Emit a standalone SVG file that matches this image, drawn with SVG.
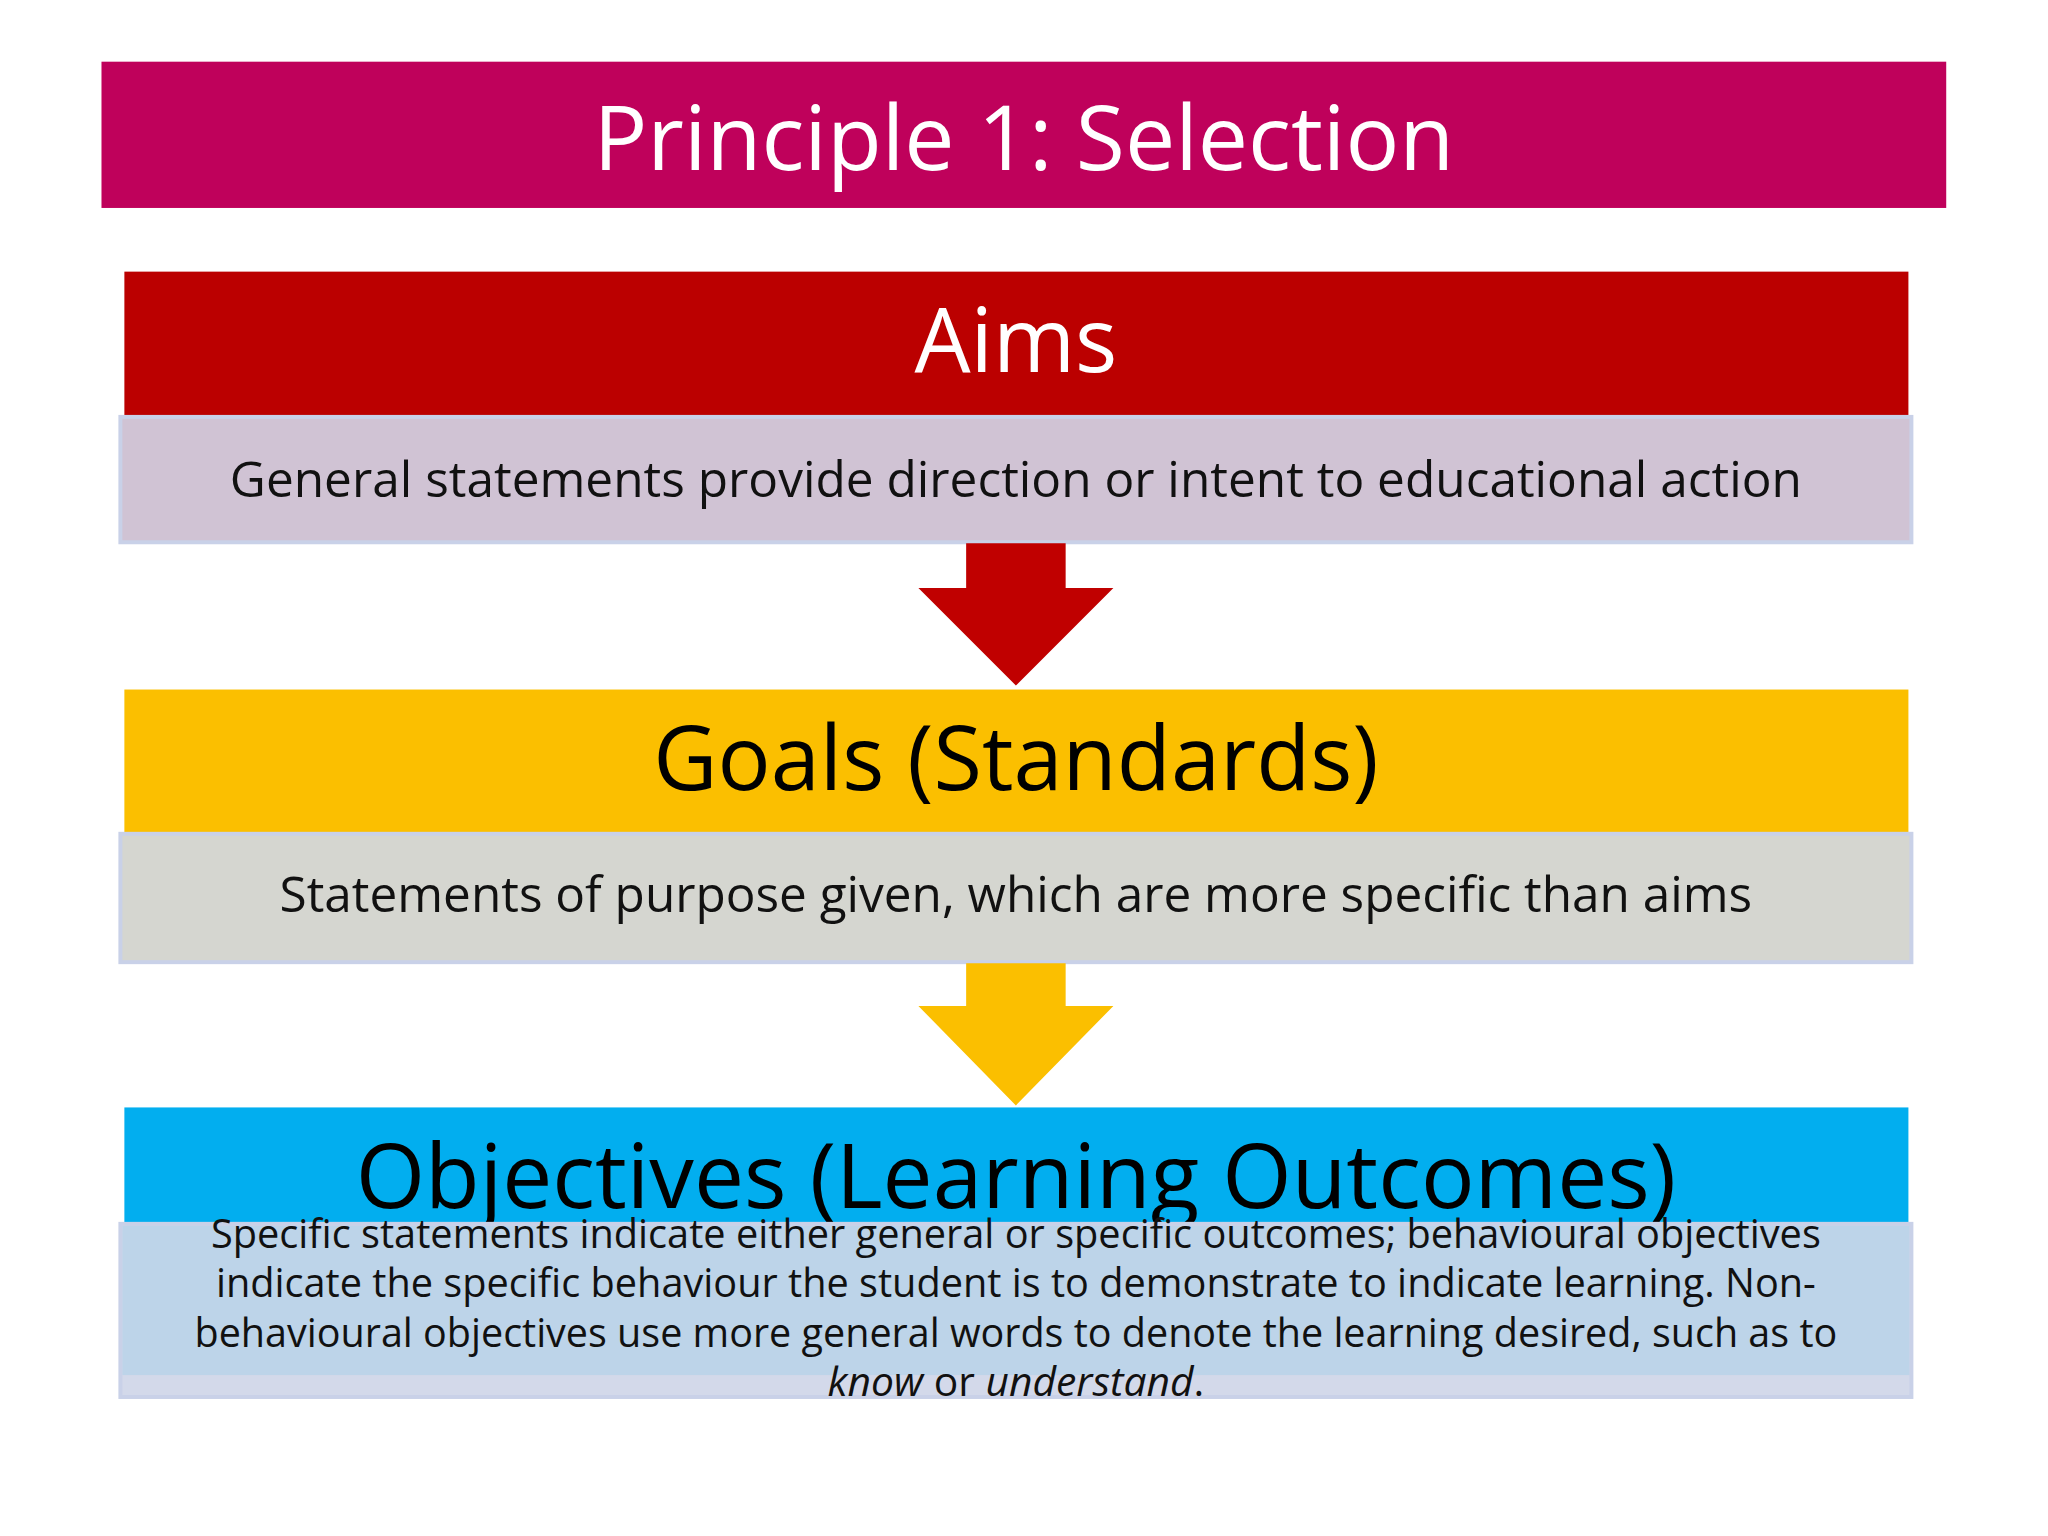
<svg xmlns="http://www.w3.org/2000/svg" width="2048" height="1536" viewBox="0 0 2048 1536">
<style>
text{font-family:"Open Sans","Noto Sans",sans-serif;text-anchor:middle}
.h{font-size:90px}
.d{font-size:50px;fill:#111}
.s{font-size:41px;fill:#111}
.box{stroke:#C9D1E8;stroke-width:4}
</style>
<rect width="2048" height="1536" fill="#fff"/>
<g transform="scale(0.995)">
<g id="title"><rect x="102" y="62" width="1854" height="147" fill="#BF015B"/>
<text class="h" x="1029" y="171" fill="#fff" textLength="865" lengthAdjust="spacingAndGlyphs">Principle 1: Selection</text></g>
<g id="aims"><rect x="125" y="273" width="1793" height="146" fill="#BB0000"/>
<text class="h" x="1021" y="374" fill="#fff" textLength="204" lengthAdjust="spacingAndGlyphs">Aims</text>
<rect class="box" x="121" y="419" width="1800" height="126" fill="#D0C3D4"/>
<text class="d" x="1021" y="499" textLength="1580" lengthAdjust="spacingAndGlyphs">General statements provide direction or intent to educational action</text></g>
<g id="goals"><rect x="125" y="693" width="1793" height="145" fill="#FBBF00"/>
<text class="h" x="1021" y="794" fill="#000" textLength="729" lengthAdjust="spacingAndGlyphs">Goals (Standards)</text>
<rect class="box" x="121" y="838" width="1800" height="129" fill="#D5D6D0"/>
<text class="d" x="1021" y="917" textLength="1480" lengthAdjust="spacingAndGlyphs">Statements of purpose given, which are more specific than aims</text></g>
<g id="objectives"><rect x="125" y="1113" width="1793" height="117" fill="#02AEEF"/>
<text class="h" x="1021" y="1214" fill="#000" textLength="1327" lengthAdjust="spacingAndGlyphs">Objectives (Learning Outcomes)</text>
<rect class="box" x="121" y="1230" width="1800" height="174" fill="#D3D9EA"/>
<rect x="123" y="1232" width="1796" height="150" fill="#BDD4E9"/>
<text class="s" x="1021" y="1254" textLength="1618" lengthAdjust="spacingAndGlyphs">Specific statements indicate either general or specific outcomes; behavioural objectives</text>
<text class="s" x="1021" y="1304" textLength="1608" lengthAdjust="spacingAndGlyphs">indicate the specific behaviour the student is to demonstrate to indicate learning. Non-</text>
<text class="s" x="1021" y="1354" textLength="1651" lengthAdjust="spacingAndGlyphs">behavioural objectives use more general words to denote the learning desired, such as to</text>
<text class="s" x="1021" y="1403"><tspan font-style="italic">know</tspan> or <tspan font-style="italic">understand</tspan>.</text></g>
<g id="connectors">
<polygon points="971,546 1071,546 1071,591 1119,591 1021,689 923,591 971,591" fill="#C00000"/>
<polygon points="971,968 1071,968 1071,1011 1119,1011 1021,1111 923,1011 971,1011" fill="#FBBF00"/>
</g>
</g>
</svg>
